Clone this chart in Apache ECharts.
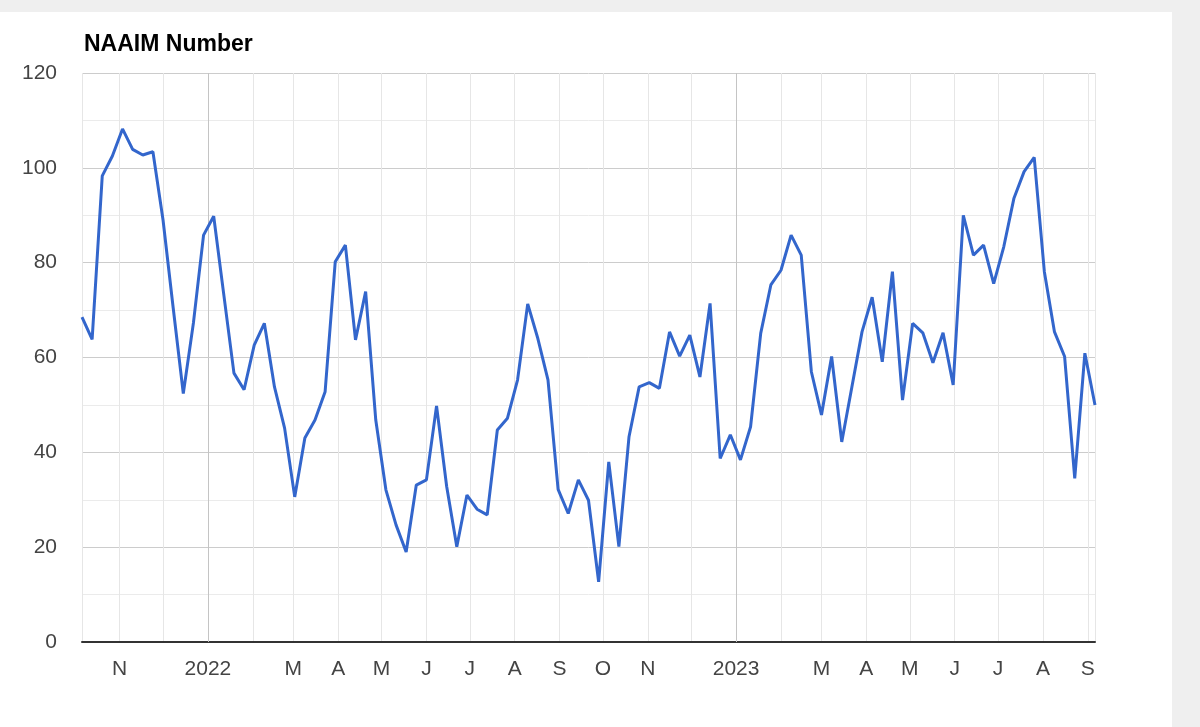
<!DOCTYPE html>
<html><head><meta charset="utf-8">
<script src="https://cdn.jsdelivr.net/npm/echarts@6/dist/echarts.min.js"></script>
<style>
html,body{margin:0;padding:0;width:1200px;height:727px;background:#efefef;overflow:hidden}
#card{position:absolute;left:0;top:12px;width:1172px;height:715px;background:#ffffff}
#chart{position:absolute;left:0;top:0;width:1200px;height:727px}
</style></head><body><div id="card"></div><div id="chart"></div>
<script>
const chartTitle = 'NAAIM Number';
const yTicks = [0, 20, 40, 60, 80, 100, 120];
const monthInitials = ['J','F','M','A','M','J','J','A','S','O','N','D'];
const hiddenMonths = [1, 11];
const firstWeek = [2021, 9, 6];   // weekly readings, Wednesdays
const naaim = [
  68.5, 63.8, 98.3, 102.5, 108.2, 103.9, 102.7, 103.4, 89.0, 70.5,
  52.4, 67.3, 85.8, 89.8, 73.2, 56.7, 53.2, 62.6, 67.2, 53.8,
  45.1, 30.6, 43.0, 46.8, 52.8, 80.2, 83.7, 63.7, 73.9, 46.8,
  32.1, 24.7, 19.0, 33.1, 34.2, 49.8, 32.8, 20.1, 31.0, 28.0,
  26.8, 44.7, 47.2, 55.3, 71.3, 64.0, 55.3, 32.2, 27.1, 34.2,
  29.9, 12.7, 38.0, 20.1, 43.3, 53.8, 54.7, 53.5, 65.4, 60.3,
  64.7, 55.9, 71.4, 38.7, 43.7, 38.4, 45.4, 65.1, 75.3, 78.4,
  85.8, 81.6, 57.0, 47.9, 60.2, 42.2, 53.8, 65.4, 72.7, 59.1,
  78.1, 51.0, 67.2, 65.2, 58.9, 65.2, 54.2, 90.0, 81.6, 83.7,
  75.6, 83.4, 93.6, 99.2, 102.2, 78.1, 65.4, 60.2, 34.5, 60.9,
  50.0
];
const yearLines = [[2022, 0, 1], [2023, 0, 1]];

const weekDates = naaim.map((_, i) => new Date(firstWeek[0], firstWeek[1], firstWeek[2] + 7 * i).getTime());
const seriesData = naaim.map((v, i) => [weekDates[i], v]);
const FONT = '"Liberation Sans", Arial, sans-serif';
const DAY = 86400000;

const chart = echarts.init(document.getElementById('chart'));
chart.setOption({
  backgroundColor: 'transparent',
  animation: false,
  title: {
    text: chartTitle, left: 79, top: 28,
    textStyle: { fontFamily: FONT, fontSize: 23, fontWeight: 'bold', color: '#000' }
  },
  grid: { left: 82, right: 105, top: 73, bottom: 85, containLabel: false },
  xAxis: {
    type: 'time',
    min: weekDates[0], max: weekDates[weekDates.length - 1],
    minInterval: 28 * DAY, maxInterval: 31 * DAY,
    splitLine: { show: true, lineStyle: { color: '#e6e6e6', width: 1 } },
    axisLine: { show: true, onZero: false, lineStyle: { color: '#333333', width: 2 } },
    axisTick: { show: false },
    axisLabel: {
      color: '#444444', fontSize: 21, fontFamily: FONT, margin: 17,
      showMinLabel: false, showMaxLabel: false, hideOverlap: false,
      formatter: function (value) {
        const d = new Date(value);
        const m = d.getMonth();
        if (m === 0) return String(d.getFullYear());
        if (hiddenMonths.indexOf(m) >= 0) return '';
        return monthInitials[m];
      }
    }
  },
  yAxis: {
    type: 'value', min: yTicks[0], max: yTicks[yTicks.length - 1], interval: yTicks[1] - yTicks[0],
    axisLine: { show: false }, axisTick: { show: false },
    axisLabel: { color: '#444444', fontSize: 21, fontFamily: FONT, margin: 25 },
    splitLine: { show: true, lineStyle: { color: '#cccccc', width: 1 } },
    minorTick: { show: false, splitNumber: 2 },
    minorSplitLine: { show: true, lineStyle: { color: '#ebebeb', width: 1 } }
  },
  series: [
    {
      type: 'line', data: [], z: 1, silent: true,
      markLine: {
        z: 1, silent: true, symbol: ['none', 'none'], animation: false,
        label: { show: false },
        lineStyle: { color: '#c4c4c4', width: 1, type: 'solid' },
        data: yearLines.map(y => ({ xAxis: new Date(y[0], y[1], y[2]).getTime() }))
      }
    },
    {
      type: 'line', data: seriesData, z: 3,
      showSymbol: false, symbol: 'none',
      lineStyle: { color: '#3366cc', width: 3 }
    }
  ]
});
</script></body></html>
